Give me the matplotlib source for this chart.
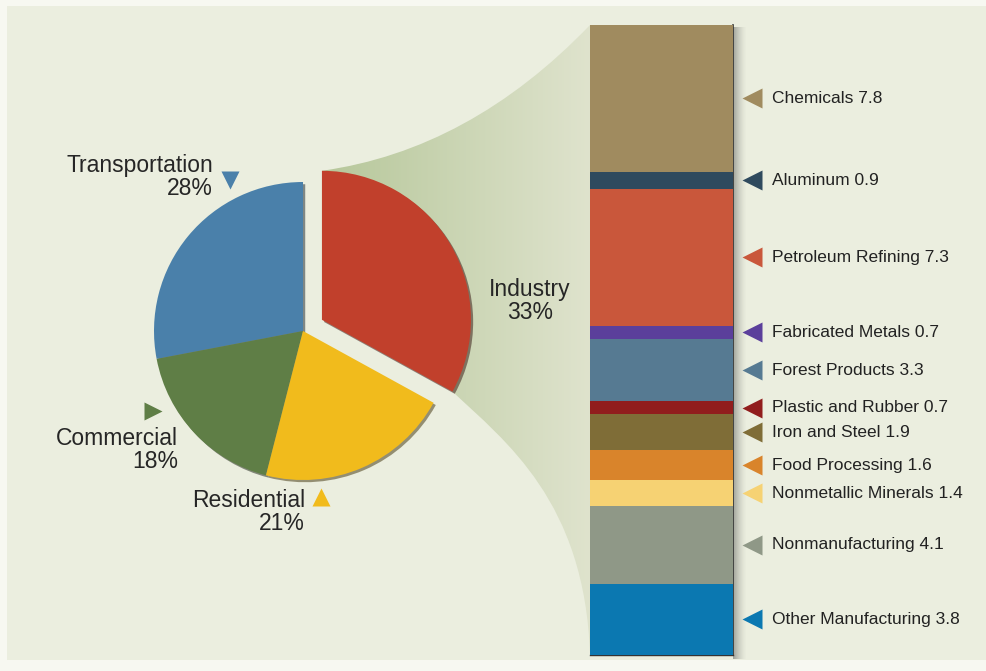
import numpy as np
import matplotlib
matplotlib.use("Agg")
import matplotlib.pyplot as plt
from matplotlib.patches import Rectangle, PathPatch
from matplotlib.path import Path
from matplotlib import transforms

plt.rcParams['font.family'] = ['Liberation Sans', 'DejaVu Sans']

# energy use by sector (%)
sectors = ["Transportation", "Commercial", "Residential", "Industry"]
sector_share = [28, 18, 21, 33]
sector_colors = ["#4a80aa", "#5f7e46", "#f1bb1c", "#c1402c"]

# industrial breakdown (quadrillion Btu)
industries = ["Chemicals", "Aluminum", "Petroleum Refining", "Fabricated Metals",
              "Forest Products", "Plastic and Rubber", "Iron and Steel",
              "Food Processing", "Nonmetallic Minerals", "Nonmanufacturing",
              "Other Manufacturing"]
industry_use = [7.8, 0.9, 7.3, 0.7, 3.3, 0.7, 1.9, 1.6, 1.4, 4.1, 3.8]
industry_colors = ["#a08b5f", "#2f4a5e", "#c9573b", "#5b3f9b", "#567a92",
                   "#911d1d", "#7f6d37", "#d9842b", "#f6d273", "#8f9887",
                   "#0b78b1"]

W, H = 986, 671
fig = plt.figure(figsize=(W / 100, H / 100), dpi=100)
fig.patch.set_facecolor("#f7f8f1")
ax = fig.add_axes([0, 0, 1, 1])
ax.set_xlim(0, W)
ax.set_ylim(0, H)
ax.axis("off")

# cream panel
ax.add_patch(Rectangle((7, 11), W - 7, H - 17, facecolor="#ebeedf", edgecolor="none", zorder=0))

# pie (explode is in data units here, i.e. pixels)
cx, cy, r = 303, 340, 149
wedges, _ = ax.pie(sector_share, colors=sector_colors, startangle=90, counterclock=True,
                   explode=[0, 0, 0, 22], center=(cx, cy), radius=r,
                   shadow={'ox': 1.6, 'oy': -1.6, 'shade': 0.75},
                   wedgeprops=dict(linewidth=0, zorder=5))
ax.set_xlim(0, W)
ax.set_ylim(0, H)
ax.set_aspect("auto")

# exploded industry wedge corners
ind = wedges[3]
ox, oy = ind.center
top_pt = (ox + r * np.cos(np.deg2rad(ind.theta2)), oy + r * np.sin(np.deg2rad(ind.theta2)))
bot_pt = (ox + r * np.cos(np.deg2rad(ind.theta1)), oy + r * np.sin(np.deg2rad(ind.theta1)))

# bar axes for the industrial breakdown
bx0, bx1, by0, by1 = 590, 733, 16, 646
bax = fig.add_axes([bx0 / W, by0 / H, (bx1 - bx0) / W, (by1 - by0) / H])
total = sum(industry_use)
bottoms = np.cumsum([0] + industry_use[:-1])
bax.bar(np.zeros(len(industry_use)), industry_use, bottom=bottoms, width=1,
        color=industry_colors, linewidth=0)
bax.set_xlim(-0.5, 0.5)
bax.set_ylim(total, 0)
bax.axis("off")
bax.set_zorder(3)

# funnel from the wedge to the bar
verts = [top_pt, (470, 521), (bx0, by1),
         (bx0, by0),
         (585, 170), (505, 230), bot_pt,
         top_pt]
codes = [Path.MOVETO, Path.CURVE3, Path.CURVE3,
         Path.LINETO,
         Path.CURVE4, Path.CURVE4, Path.CURVE4,
         Path.CLOSEPOLY]
funnel = PathPatch(Path(verts, codes), facecolor="none", edgecolor="none")
ax.add_patch(funnel)
c0 = np.array(matplotlib.colors.to_rgb("#b6c79a"))
c1 = np.array(matplotlib.colors.to_rgb("#dfe3cd"))
t = np.linspace(0, 1, 256)
grad = (c0[None, :] * (1 - t[:, None]) + c1[None, :] * t[:, None])[None, :, :]
im = ax.imshow(grad, extent=[top_pt[0], bx0, by0, by1], aspect="auto", zorder=1,
               interpolation="bilinear")
im.set_clip_path(funnel)

# bar shadow on the right
sh = np.zeros((1, 64, 4))
sh[..., :3] = 0.2
sh[0, :, 3] = np.linspace(0.55, 0.0, 64) ** 1.5
ax.imshow(sh, extent=[bx1, bx1 + 14, by0 - 4, by1 - 2], aspect="auto", zorder=1)
ax.plot([bx1, bx1], [by0, by1], color="#333333", lw=1.2, zorder=4)
ax.plot([bx0, bx1], [by0, by0], color="#333333", lw=1.0, zorder=4)

# pie labels
txt = dict(color="#262626", fontsize=16.5, linespacing=1.0, zorder=6)
ax.text(213, 494, "Transportation\n28%", ha="right", va="center", multialignment="right", **txt)
ax.text(178, 221, "Commercial\n18%", ha="right", va="center", multialignment="right", **txt)
ax.text(305, 159, "Residential\n21%", ha="right", va="center", multialignment="right", **txt)
ax.text(530, 370, "Industry\n33%", ha="center", va="center", multialignment="center", **txt)
ax.plot(230, 491, marker="v", ms=13, color=sector_colors[0], mec="none", zorder=6)
ax.plot(153, 260, marker=">", ms=13, color=sector_colors[1], mec="none", zorder=6)
ax.plot(321, 174, marker="^", ms=13, color=sector_colors[2], mec="none", zorder=6)

# industry labels beside the bar
lbl = transforms.blended_transform_factory(ax.transData, bax.transData)
for name, val, b, col in zip(industries, industry_use, bottoms, industry_colors):
    yc = b + val / 2
    ax.plot(752, yc, marker="<", ms=15, color=col, mec="none", transform=lbl, zorder=6)
    ax.text(772, yc, f"{name} {val}", transform=lbl, ha="left", va="center",
            fontsize=12.5, color="#222222", zorder=6)

fig.savefig("out.png", dpi=100, facecolor=fig.get_facecolor())
